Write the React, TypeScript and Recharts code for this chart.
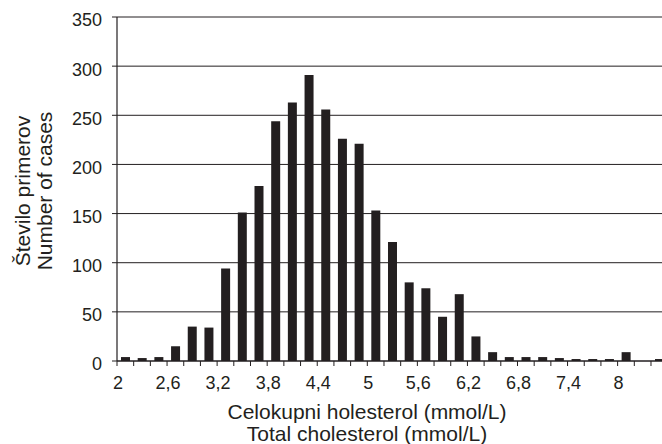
import React from "react";
import { BarChart, Bar, XAxis, YAxis, CartesianGrid, Label } from "recharts";

// Bin centres (mmol/L), bin width 0.2
const binCenters = [
  2.1, 2.3, 2.5, 2.7, 2.9, 3.1, 3.3, 3.5, 3.7, 3.9, 4.1, 4.3, 4.5, 4.7, 4.9, 5.1, 5.3,
  5.5, 5.7, 5.9, 6.1, 6.3, 6.5, 6.7, 6.9, 7.1, 7.3, 7.5, 7.7, 7.9, 8.1, 8.3, 8.5,
];
// Number of cases per bin
const counts = [
  4, 3, 4, 15, 35, 34, 94, 151, 178, 244, 263, 291, 256, 226, 221, 153, 121,
  80, 74, 45, 68, 25, 9, 4, 4, 4, 3, 2, 2, 2, 9, 0, 2,
];
// Bin boundaries (tick marks) and labelled ticks
const xTicks = [
  2, 2.2, 2.4, 2.6, 2.8, 3, 3.2, 3.4, 3.6, 3.8, 4, 4.2, 4.4, 4.6, 4.8, 5, 5.2, 5.4,
  5.6, 5.8, 6, 6.2, 6.4, 6.6, 6.8, 7, 7.2, 7.4, 7.6, 7.8, 8, 8.2, 8.4,
];
const xLabelled = ["2", "2,6", "3,2", "3,8", "4,4", "5", "5,6", "6,2", "6,8", "7,4", "8"];
const yTicks = [0, 50, 100, 150, 200, 250, 300, 350];

const yTitle = ["Število primerov", "Number of cases"];
const xTitle = ["Celokupni holesterol (mmol/L)", "Total cholesterol (mmol/L)"];

const data = binCenters.map((x, i) => ({ x, n: counts[i] }));

const FONT = "'Liberation Sans', Arial, sans-serif";
const INK = "#231f20";

const fmtX = (v: number) => {
  const s = String(Math.round(v * 10) / 10).replace(".", ",");
  return xLabelled.includes(s) ? s : "";
};

const YTitle = (props: any) => {
  const vb = props.viewBox || { x: 0, y: 17, width: 117, height: 344 };
  const cy = vb.y + vb.height / 2;
  return (
    <g>
      {yTitle.map((t, i) => (
        <text
          key={i}
          x={0}
          y={0}
          transform={`translate(${vb.x + 30 + i * 22}, ${cy + 2}) rotate(-90)`}
          textAnchor="middle"
          fontSize={21}
          fontFamily={FONT}
          fill={INK}
        >
          {t}
        </text>
      ))}
    </g>
  );
};

const XTitle = (props: any) => {
  const vb = props.viewBox || { x: 117, y: 361, width: 545, height: 83 };
  return (
    <g>
      {xTitle.map((t, i) => (
        <text
          key={i}
          x={vb.x + 250}
          y={vb.y + 58 + i * 22}
          textAnchor="middle"
          fontSize={21}
          fontFamily={FONT}
          fill={INK}
        >
          {t}
        </text>
      ))}
    </g>
  );
};

export default function App() {
  return (
    <div style={{ position: "absolute", left: 0, top: 0, width: 662, height: 444, background: "#fff" }}>
      <BarChart
        width={662}
        height={444}
        data={data}
        margin={{ top: 17, right: 0, bottom: 0, left: 0 }}
      >
        <CartesianGrid vertical={false} stroke={INK} strokeWidth={1} />
        <XAxis
          dataKey="x"
          type="number"
          domain={[2, 8.532]}
          ticks={xTicks}
          interval={0}
          tickFormatter={fmtX}
          height={83}
          tickSize={5}
          tickMargin={10}
          tick={{ fontSize: 18, fontFamily: FONT, fill: INK, dx: 1 }}
          axisLine={{ stroke: INK, strokeWidth: 1.2 }}
          tickLine={{ stroke: INK }}
          allowDataOverflow
        >
          <Label content={<XTitle />} />
        </XAxis>
        <YAxis
          type="number"
          domain={[0, 350]}
          ticks={yTicks}
          interval={0}
          width={117}
          tickSize={5}
          tickMargin={10}
          tick={{ fontSize: 18, fontFamily: FONT, fill: INK, dy: 3 }}
          axisLine={{ stroke: INK, strokeWidth: 1.2 }}
          tickLine={{ stroke: INK }}
        >
          <Label content={<YTitle />} />
        </YAxis>
        <Bar dataKey="n" fill={INK} barSize={9} isAnimationActive={false} />
      </BarChart>
    </div>
  );
}
